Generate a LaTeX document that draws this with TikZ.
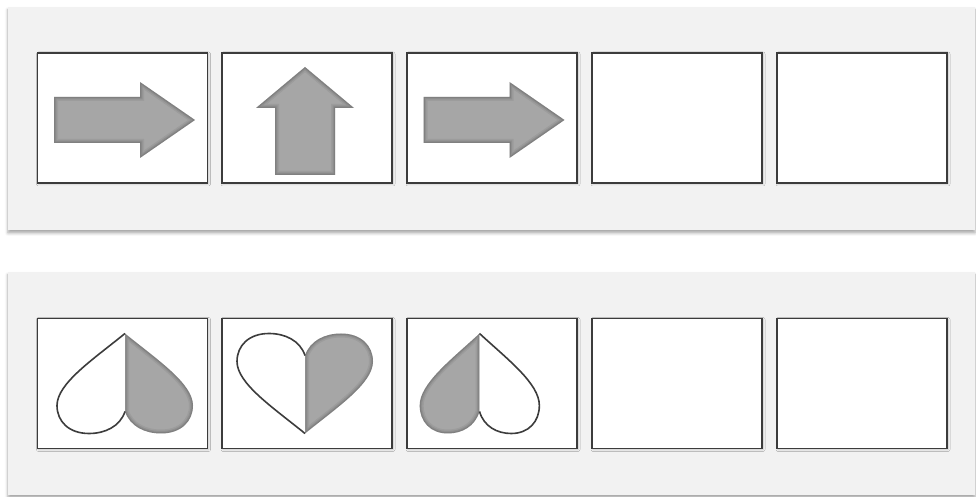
\documentclass[tikz,border=0pt]{standalone}
\usepackage{tikz}
\usetikzlibrary{shadows.blur}

\definecolor{panelgray}{HTML}{F2F2F2}
\definecolor{shapegray}{HTML}{A6A6A6}
\definecolor{framegray}{HTML}{3C3C3C}

\newcommand\rarrowpath{(-68.5,23) -- (17.5,23) -- (17.5,38) -- (72.5,0) -- (17.5,-38) -- (17.5,-23) -- (-68.5,-23) -- cycle}
\newcommand\uarrowpath{(-30,-57) -- (-30,10) -- (-49,10) -- (0,51) -- (49,10) -- (30,10) -- (30,-57) -- cycle}
\newcommand\heartcurve{(0,28) .. controls (5,43) and (20,50) .. (36,50) .. controls (56,50) and (68,38) .. (68,22) .. controls (68,0) and (32,-24) .. (0,-50)}
\newcommand\innershade[1]{%
  \fill[shapegray] #1;
  \begin{scope}
    \clip #1;
    \draw[line width=8pt, black, opacity=.06] #1;
    \draw[line width=5pt, black, opacity=.08] #1;
    \draw[line width=2.5pt, black, opacity=.10] #1;
  \end{scope}}

\begin{document}
\begin{tikzpicture}[x=1pt,y=1pt,
    panel/.style={fill=panelgray, blur shadow={shadow xshift=0pt, shadow yshift=-3pt,
                  shadow blur radius=3pt, shadow opacity=35}},
    cell/.style={rectangle, draw=framegray, line width=1.2pt, fill=white,
                 minimum width=170pt, minimum height=130pt, inner sep=0pt,
                 blur shadow={shadow xshift=1pt, shadow yshift=-1pt,
                 shadow blur radius=2pt, shadow opacity=20}},
    outline/.style={draw=framegray, line width=1.6pt}]
\useasboundingbox (0,0) rectangle (976,497);

% two panels
\path[panel] (8,267) rectangle (975,490);
\path[panel] (8,2) rectangle (975,225);

\begin{scope}[every node/.style={cell}]
    \node (a1) at (122.5,379) {};
    \node (a2) at (307,379) {};
    \node (a3) at (492,379) {};
    \node (a4) at (677,379) {};
    \node (a5) at (862,379) {};
    \node (b1) at (122.5,113.5) {};
    \node (b2) at (307,113.5) {};
    \node (b3) at (492,113.5) {};
    \node (b4) at (677,113.5) {};
    \node (b5) at (862,113.5) {};
\end{scope}

% arrows
\begin{scope}[shift={(a1)}, yshift=-2pt]
    \innershade{\rarrowpath}
\end{scope}
\begin{scope}[shift={(a2)}, xshift=-2pt]
    \innershade{\uarrowpath}
\end{scope}
\begin{scope}[shift={(a3)}, yshift=-2pt]
    \innershade{\rarrowpath}
\end{scope}

% hearts
\begin{scope}[shift={(b1)}, xshift=2.5pt, yscale=-1]
    \innershade{\heartcurve -- cycle}
    \fill[white] [xscale=-1] \heartcurve -- cycle;
    \draw[outline] [xscale=-1] \heartcurve;
\end{scope}
\begin{scope}[shift={(b2)}, xshift=-2pt]
    \innershade{\heartcurve -- cycle}
    \fill[white] [xscale=-1] \heartcurve -- cycle;
    \draw[outline] [xscale=-1] \heartcurve;
\end{scope}
\begin{scope}[shift={(b3)}, xshift=-12.5pt, yscale=-1, xscale=-.88]
    \innershade{\heartcurve -- cycle}
    \fill[white] [xscale=-1] \heartcurve -- cycle;
    \draw[outline] [xscale=-1] \heartcurve;
\end{scope}
\end{tikzpicture}
\end{document}
